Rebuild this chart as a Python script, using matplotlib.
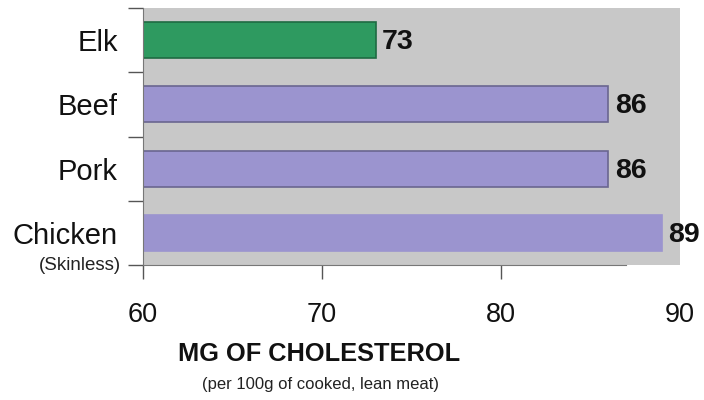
import matplotlib.pyplot as plt

# data
meats = ["Elk", "Beef", "Pork", "Chicken"]
cholesterol = [73, 86, 86, 89]
bar_colors = ["#2e9a60", "#9b94cf", "#9b94cf", "#9b94cf"]
edge_colors = ["#1f6b42", "#6a6690", "#6a6690", "#9b94cf"]
xticks = [60, 70, 80, 90]

plt.rcParams['font.family'] = ['Liberation Sans', 'DejaVu Sans']

fig = plt.figure(figsize=(7.04, 4.0), dpi=100)
ax = fig.add_axes([143 / 704, 1 - 265 / 400, (680 - 143) / 704, (265 - 8) / 400])
ax.set_facecolor("#c8c8c8")

ypos = list(range(len(meats)))
ax.barh(ypos, [v - 60 for v in cholesterol], left=60, height=0.56,
        color=bar_colors, edgecolor=edge_colors, linewidth=1.2, zorder=2)

# value labels
for y, v in zip(ypos, cholesterol):
    ax.text(v + 0.35, y + 0.03, str(v), va="center", ha="left",
            fontsize=20.5, fontweight="bold", color="#111111")

ax.set_xlim(60, 90)
ax.set_ylim(len(meats) - 0.5, -0.5)

ax.set_xticks(xticks)
ax.set_xticklabels([str(t) for t in xticks], fontsize=19.5, color="#111111")
ax.tick_params(axis="x", length=10, width=1, color="#555555", pad=17)
ax.get_xaxis().get_major_ticks()[-1].tick1line.set_visible(False)

# category ticks sit between bars, labels at bar centres
ax.set_yticks(ypos)
ax.set_yticklabels(meats, fontsize=21, color="#111111")
ax.tick_params(axis="y", which="major", length=0, pad=18)
ax.set_yticks([-0.5, 0.5, 1.5, 2.5, 3.5], minor=True)
ax.tick_params(axis="y", which="minor", length=11, width=1, color="#555555")

for s in ["top", "right"]:
    ax.spines[s].set_visible(False)
ax.spines["left"].set_color("#777777")
ax.spines["bottom"].set_color("#777777")
ax.spines["bottom"].set_bounds(60, 87)

ax.text(-22 / 537, 3.5, "(Skinless)", transform=ax.get_yaxis_transform(),
        ha="right", va="center", fontsize=13.5, color="#222222")

fig.text(319 / 704, 1 - 354 / 400, "MG OF CHOLESTEROL", ha="center", va="center",
         fontsize=18.3, fontweight="bold", color="#111111")
fig.text(320 / 704, 1 - 385 / 400, "(per 100g of cooked, lean meat)", ha="center",
         va="center", fontsize=12, color="#222222")

fig.savefig("out.png", dpi=100)
